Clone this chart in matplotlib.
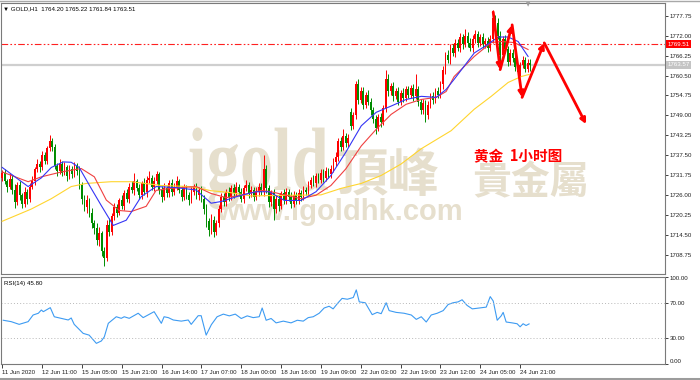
import matplotlib
matplotlib.use('Agg')
import matplotlib.pyplot as plt
from matplotlib.textpath import TextPath
from matplotlib.font_manager import FontProperties
from matplotlib.patches import PathPatch
from matplotlib.transforms import Affine2D

# ---------------- data ----------------
first_open = 1731.0
gap_opens = {140: 1750.0}
closes = [
    1732.5, 1730.0, 1728.5, 1730.8, 1727.5, 1724.0, 1729.0, 1726.0, 1723.5, 1727.0,
    1725.0, 1728.5, 1730.0, 1733.5, 1735.0, 1734.0, 1737.5, 1736.0, 1739.5, 1741.5,
    1740.0, 1734.5, 1733.0, 1735.0, 1732.5, 1734.0, 1731.5, 1733.5, 1732.0, 1734.5,
    1733.0, 1729.0, 1725.0, 1722.5, 1724.5, 1721.0, 1718.0, 1716.5, 1713.0, 1715.0,
    1710.0, 1708.0, 1717.5, 1715.5, 1720.0, 1722.5, 1721.0, 1724.5, 1723.0, 1726.5,
    1725.0, 1728.5, 1727.5, 1730.0, 1728.0, 1726.0, 1729.5, 1727.0, 1730.5, 1731.0,
    1728.5, 1730.0, 1732.0, 1727.5, 1725.5, 1728.0, 1726.5, 1729.5, 1727.0, 1728.5,
    1730.0, 1727.5, 1725.5, 1728.0, 1726.0, 1724.5, 1727.0, 1728.5, 1726.0, 1727.5,
    1725.0, 1722.0, 1718.5, 1716.0, 1719.0, 1715.5, 1718.0, 1722.0, 1725.5, 1724.0,
    1727.0, 1725.5, 1728.0, 1726.5, 1728.5, 1727.0, 1725.0, 1728.0, 1729.0, 1726.5,
    1727.5, 1725.5, 1727.0, 1728.5, 1727.0, 1733.5, 1728.0, 1724.0, 1726.5, 1722.0,
    1725.0, 1723.0, 1726.5, 1724.5, 1727.0, 1725.5, 1723.5, 1726.0, 1724.5, 1726.5,
    1725.5, 1727.5, 1727.0, 1729.0, 1730.5, 1729.5, 1731.5, 1730.5, 1732.5, 1731.0,
    1733.0, 1732.0, 1733.5, 1735.5, 1737.0, 1741.5, 1740.0, 1743.0, 1741.0, 1742.5,
    1746.0, 1749.0, 1758.0, 1753.5, 1756.0, 1752.0, 1755.0, 1753.0, 1750.5, 1748.0,
    1745.5, 1748.5, 1747.0, 1751.0, 1759.5, 1756.0, 1757.5, 1754.5, 1756.0, 1753.0,
    1755.5, 1754.0, 1756.5, 1755.0, 1757.0, 1754.5, 1756.5, 1753.0, 1750.5, 1752.5,
    1749.0, 1752.0, 1754.5, 1753.5, 1756.0, 1755.0, 1758.0, 1762.0, 1766.5, 1765.0,
    1768.5, 1767.0, 1770.0, 1768.5, 1771.5, 1769.5, 1772.0, 1770.0, 1768.5, 1771.0,
    1772.5, 1770.0, 1771.5, 1769.5, 1770.5, 1768.5, 1771.0, 1777.0, 1775.5, 1772.0,
    1766.5, 1771.0, 1768.0, 1764.5, 1767.0, 1765.5, 1763.0, 1761.5, 1763.5, 1765.0,
    1762.5, 1764.2, 1763.51,
]
upper_wicks = [
    0.8, 1.2, 0.6, 1.5, 0.9, 1.8, 0.7, 1.1, 0.5, 1.3,
    0.9, 1.0, 1.6, 0.7, 1.4, 0.8, 1.2, 1.0, 0.6, 2.0,
    1.1, 0.9, 0.7, 1.3, 0.8, 1.5, 0.6, 1.1, 0.9, 1.2,
    0.8, 1.4, 0.9, 1.0, 1.6, 0.7, 1.2, 0.9, 1.5, 1.8,
    0.8, 1.0, 1.3, 1.9, 0.9, 1.4, 1.0, 0.8, 1.6, 1.1,
    1.3, 0.9, 1.5, 2.5, 0.8, 1.2, 0.7, 1.4, 1.0, 2.0,
    0.9, 1.3, 1.1, 0.8, 1.2, 1.5, 0.7, 1.0, 1.3, 0.9,
    1.4, 0.8, 1.1, 1.2, 0.9, 1.0, 1.5, 0.8, 1.1, 0.9,
    1.2, 1.0, 1.4, 0.8, 1.6, 1.1, 0.9, 1.3, 1.0, 1.2,
    0.8, 1.5, 0.9, 1.1, 1.3, 0.7, 1.2, 1.0, 1.4, 0.9,
    1.1, 0.8, 1.3, 1.0, 0.9, 4.0, 1.2, 0.9, 1.1, 1.4,
    1.0, 1.3, 0.8, 1.2, 1.0, 0.9, 1.4, 1.1, 0.8, 1.2,
    0.9, 1.3, 1.0, 1.1, 0.8, 1.4, 1.0, 0.9, 1.2, 1.1,
    1.0, 0.8, 1.3, 1.1, 1.4, 0.9, 1.2, 2.0, 1.0, 1.1,
    1.2, 0.9, 1.0, 1.5, 1.1, 1.3, 0.8, 1.2, 1.0, 0.9,
    1.1, 0.8, 1.2, 1.0, 2.5, 1.3, 0.9, 1.1, 1.0, 1.2,
    0.8, 1.3, 1.0, 1.1, 0.9, 1.2, 4.3, 1.0, 0.8, 1.2,
    1.0, 1.1, 0.9, 1.3, 1.0, 1.2, 0.8, 1.1, 0.9, 1.4,
    1.0, 1.2, 0.9, 1.1, 1.3, 1.0, 2.0, 0.9, 1.2, 1.1,
    1.0, 0.8, 1.1, 1.2, 0.9, 1.0, 1.3, 2.4, 1.0, 1.5,
    1.2, 1.0, 1.3, 0.9, 1.1, 1.0, 1.2, 0.8, 1.0, 1.1,
    0.9, 1.0, 1.02,
]
lower_wicks = [
    1.0, 0.8, 1.5, 0.7, 1.2, 1.6, 0.9, 1.3, 1.1, 0.8,
    1.4, 0.9, 0.7, 1.1, 0.8, 1.3, 0.6, 1.0, 0.9, 0.7,
    1.2, 1.0, 1.4, 0.8, 1.1, 0.7, 1.3, 0.9, 1.0, 0.8,
    1.1, 1.3, 1.5, 1.0, 1.6, 1.2, 1.4, 1.8, 1.3, 1.6,
    1.5, 2.4, 1.0, 1.2, 0.9, 1.1, 1.3, 0.8, 1.0, 1.2,
    0.9, 1.1, 1.0, 1.3, 0.8, 1.2, 1.0, 0.9, 1.4, 1.1,
    1.0, 1.3, 0.8, 1.2, 1.5, 0.9, 1.1, 1.0, 1.2, 0.8,
    1.1, 1.0, 1.3, 0.9, 1.2, 1.4, 0.8, 1.0, 1.1, 1.3,
    1.0, 1.4, 1.6, 1.8, 1.2, 1.5, 1.0, 1.1, 0.9, 1.2,
    1.0, 1.1, 0.9, 1.2, 0.8, 1.3, 1.0, 1.1, 0.9, 1.2,
    1.0, 1.3, 0.9, 1.1, 1.0, 1.2, 1.4, 1.5, 1.1, 3.2,
    1.2, 1.5, 1.0, 1.1, 0.9, 1.3, 1.2, 1.0, 1.1, 0.9,
    1.1, 1.0, 0.9, 1.2, 1.0, 0.8, 1.1, 1.0, 0.9, 1.2,
    0.9, 1.1, 1.0, 0.8, 1.2, 1.0, 1.3, 0.9, 1.1, 1.0,
    1.2, 1.0, 1.1, 1.3, 0.9, 1.2, 1.0, 1.1, 1.4, 1.2,
    1.8, 1.0, 1.2, 0.9, 1.1, 1.3, 1.0, 1.2, 0.9, 1.1,
    1.0, 1.2, 0.8, 1.1, 1.0, 1.3, 0.9, 1.2, 1.1, 1.0,
    2.0, 1.1, 1.0, 1.2, 0.9, 1.1, 1.0, 1.3, 1.2, 1.0,
    1.1, 0.9, 1.2, 1.0, 1.1, 1.3, 0.9, 1.2, 1.0, 1.1,
    1.0, 1.2, 0.9, 1.1, 1.0, 1.2, 0.9, 1.0, 1.3, 1.1,
    2.5, 1.2, 1.0, 1.3, 1.1, 1.0, 1.2, 1.0, 1.1, 0.9,
    1.1, 1.0, 1.67,
]

# moving averages (bar index, price)
ma_blue_idx = [0, 10.4, 15.7, 19.7, 24.5, 27.7, 30.9, 35.7, 39.8, 44.6, 49.8, 55.8, 61.8,
               69.9, 77.9, 83.9, 88.0, 96.0, 102.0, 107.2, 113.3, 120.0, 126.0, 132.0,
               138.0, 144.2, 150.2, 156.2, 162.2, 168.3, 174.3, 178.3, 181.5, 189.6,
               193.6, 199.2, 203.2, 207.2, 211.2]
ma_blue_val = [1734.0, 1728.5, 1731.0, 1734.0, 1735.6, 1735.5, 1734.0, 1728.0, 1723.0,
               1717.3, 1718.8, 1725.6, 1728.5, 1728.2, 1727.5, 1723.7, 1724.2, 1726.0,
               1727.0, 1727.0, 1724.5, 1724.5, 1727.0, 1731.7, 1738.4, 1746.0, 1749.9,
               1751.7, 1753.6, 1754.5, 1754.2, 1756.5, 1759.4, 1767.0, 1768.8, 1771.6,
               1771.6, 1770.3, 1766.0]
ma_red_idx = [0, 10.4, 15.7, 23.7, 31.7, 37.0, 41.8, 47.0, 51.8, 57.8, 61.8, 67.9, 77.9,
              83.9, 90.0, 96.0, 104.0, 108.0, 114.0, 120.0, 126.0, 132.0, 138.0, 144.2,
              150.2, 156.2, 162.2, 168.3, 174.3, 178.3, 181.5, 189.6, 196.4, 200.4,
              205.6, 211.2]
ma_red_val = [1732.7, 1729.9, 1731.3, 1732.7, 1733.7, 1731.3, 1724.6, 1721.6, 1721.3,
              1722.8, 1727.4, 1728.0, 1728.5, 1726.5, 1725.3, 1726.0, 1727.4, 1727.0,
              1726.0, 1725.0, 1726.0, 1728.8, 1733.6, 1740.2, 1745.0, 1749.3, 1752.2,
              1753.6, 1754.2, 1755.9, 1760.2, 1766.0, 1770.0, 1770.3, 1770.0, 1768.0]
ma_yellow_idx = [0, 11.6, 19.7, 27.7, 33.7, 43.8, 51.8, 63.9, 75.9, 83.9, 91.2, 100.0,
                 108.0, 116.0, 128.0, 136.2, 144.2, 152.2, 160.2, 168.3, 180.3, 189.6,
                 196.4, 203.2, 208.4, 211.6]
ma_yellow_val = [1718.5, 1722.0, 1725.0, 1728.5, 1729.4, 1729.9, 1729.9, 1728.8, 1728.5,
                 1727.3, 1726.8, 1725.8, 1725.9, 1726.0, 1726.1, 1728.0, 1729.4, 1731.7,
                 1735.0, 1739.4, 1744.6, 1750.8, 1754.5, 1758.5, 1760.2, 1760.8]

# RSI(14)
rsi_idx = [0.4, 3.6, 6.8, 10.4, 12.4, 14.5, 15.7, 16.5, 19.3, 20.9, 26.5, 27.7, 28.9,
           32.5, 34.9, 37.8, 39.8, 41.0, 42.6, 45.8, 47.8, 49.0, 51.0, 54.6, 56.6, 61.0,
           63.9, 65.0, 66.7, 68.7, 71.9, 74.7, 75.9, 78.7, 79.9, 81.9, 84.0, 86.3, 88.8,
           91.2, 93.6, 96.0, 98.4, 100.8, 103.2, 104.4, 106.0, 108.0, 110.0, 112.9,
           116.0, 118.5, 120.9, 122.9, 124.9, 127.3, 129.3, 131.3, 132.9, 134.9, 136.5,
           138.6, 141.0, 142.2, 143.4, 145.8, 148.6, 150.6, 152.2, 154.2, 155.4, 158.2,
           161.4, 164.3, 166.3, 168.3, 170.3, 172.3, 174.7, 177.1, 179.1, 181.1, 183.1,
           184.7, 186.7, 188.8, 191.6, 194.4, 196.0, 197.2, 198.8, 200.4, 201.2, 202.4,
           204.8, 206.8, 208.0, 209.2, 210.4, 211.6]
rsi_val = [50.0, 48.4, 45.3, 48.4, 56.0, 58.0, 61.7, 59.8, 64.4, 54.0, 50.3, 52.6, 45.3,
           35.0, 33.0, 23.6, 26.3, 31.0, 46.5, 54.0, 52.2, 54.0, 52.2, 58.0, 53.0, 59.8,
           46.5, 54.0, 53.0, 50.3, 49.0, 50.3, 45.3, 55.2, 55.2, 33.0, 45.0, 54.0, 57.0,
           55.0, 57.0, 52.0, 55.0, 53.0, 54.0, 64.0, 50.0, 52.0, 47.0, 49.0,
           47.0, 50.0, 49.0, 53.0, 54.0, 58.0, 64.0, 66.0, 63.0, 70.0, 75.0,
           74.0, 76.0, 84.7, 71.0, 70.0, 56.4, 59.0, 57.5, 70.0, 61.0, 59.0,
           58.0, 56.0, 51.0, 54.0, 48.0, 56.0, 58.0, 61.0, 68.0, 70.0, 71.0,
           73.4, 67.0, 63.0, 64.0, 65.0, 77.0, 72.0, 50.0, 55.0, 59.0, 48.0,
           47.0, 46.0, 42.5, 46.0, 44.0, 45.8]

red_level = 1769.51
gray_level = 1763.57
header = "GOLD,H1  1764.20 1765.22 1761.84 1763.51"
rsi_label = "RSI(14) 45.80"
price_ticks = [1777.75, 1772.00, 1766.25, 1760.50, 1754.75, 1749.00, 1743.25,
               1737.50, 1731.75, 1726.00, 1720.25, 1714.50, 1708.75]
rsi_ticks = [100, 70, 30, 0]
x_tick_idx = [0, 16, 32, 48, 64, 80, 96, 112, 128, 144, 160, 176, 192, 208]
x_tick_labels = ["11 Jun 2020", "12 Jun 11:00", "15 Jun 05:00", "15 Jun 21:00",
                 "16 Jun 14:00", "17 Jun 07:00", "18 Jun 00:00", "18 Jun 16:00",
                 "19 Jun 09:00", "22 Jun 03:00", "22 Jun 19:00", "23 Jun 12:00",
                 "24 Jun 05:00", "24 Jun 21:00"]
arrow_x = [197.2, 200.0, 204.8, 208.8, 217.7, 234.5]
arrow_y = [1778.8, 1762.2, 1775.1, 1754.2, 1769.9, 1746.5]
title_cn = "黄金  1小时图"

# ---------------- layout ----------------
W, H = 700, 380
def fx(px): return px / W
def fy(py): return 1 - py / H

TICKFONT = ['Liberation Sans', 'DejaVu Sans']
fig = plt.figure(figsize=(W / 100, H / 100), dpi=100)
fig.patch.set_facecolor('white')

ax = fig.add_axes([fx(1), fy(274), 664 / W, 271 / H])
rx = fig.add_axes([fx(1), fy(364), 664 / W, 87.5 / H])

# ---------------- candles ----------------
opens, highs, lows = [], [], []
prev = first_open
for i, c in enumerate(closes):
    o = gap_opens.get(i, prev)
    opens.append(o)
    highs.append(max(o, c) + upper_wicks[i])
    lows.append(min(o, c) - lower_wicks[i])
    prev = c

UP, DN = '#FF0000', '#008C00'
xs = list(range(len(closes)))
cols = [UP if c >= o else DN for o, c in zip(opens, closes)]
ax.vlines(xs, lows, highs, colors=cols, lw=0.7, zorder=3)
bottoms = [min(o, c) for o, c in zip(opens, closes)]
heights = [max(abs(c - o), 0.25) for o, c in zip(opens, closes)]
ax.bar(xs, heights, bottom=bottoms, width=0.7, color=cols, linewidth=0, zorder=3)

# moving averages
ax.plot(ma_yellow_idx, ma_yellow_val, color='#FFD52E', lw=0.8, zorder=4)
ax.plot(ma_red_idx, ma_red_val, color='#F04040', lw=0.8, zorder=4)
ax.plot(ma_blue_idx, ma_blue_val, color='#3535F5', lw=0.8, zorder=4)

# levels
ax.axhline(red_level, color='#FF2020', lw=0.8, ls=(0, (6, 2, 1.5, 2, 1.5, 2)), zorder=2)
ax.axhline(gray_level, color='#CFCFCF', lw=1.6, zorder=2)

ax.set_xlim(-0.5, 266.2)
ax.set_ylim(1703.3, 1781.4)
ax.yaxis.tick_right()
ax.set_yticks(price_ticks)
ax.set_yticklabels(['%.2f' % v for v in price_ticks], family=TICKFONT, fontsize=4.4)
ax.tick_params(axis='y', length=2.2, width=0.6, pad=1, colors='#202020')
ax.set_xticks([])
for s in ax.spines.values():
    s.set_color('#7A7A7A'); s.set_linewidth(0.8)

# price boxes on the scale
tr = ax.get_yaxis_transform()
ax.text(1.0035, red_level, '%.2f' % red_level, transform=tr, fontsize=4.4, family=TICKFONT,
        color='white', va='center', ha='left', clip_on=False,
        bbox=dict(boxstyle='square,pad=0.25', fc='#FF0000', ec='none'))
ax.text(1.0035, gray_level, '%.2f' % gray_level, transform=tr, fontsize=4.4, family=TICKFONT,
        color='white', va='center', ha='left', clip_on=False,
        bbox=dict(boxstyle='square,pad=0.25', fc='#C4C4C4', ec='none'))

# watermark
WM = '#E6DFCD'
tp = TextPath((0, 0), 'igold', size=90,
              prop=FontProperties(family='Liberation Serif', weight='bold'))
wm_patch = PathPatch(tp, transform=Affine2D().scale(0.74, 1.0).translate(188, H - 190),
                     fc=WM, ec='none', zorder=1, clip_on=False)
ax.add_patch(wm_patch)
ax.text(fx(336), fy(176), '頂峰', transform=fig.transFigure, fontsize=37,
        family='Noto Sans CJK TC', fontweight='bold', color=WM, ha='left', va='center', zorder=1)
ax.text(fx(472), fy(183), '貴金屬', transform=fig.transFigure, fontsize=28,
        family='Noto Sans CJK TC', fontweight='bold', color=WM, ha='left', va='center', zorder=1)
ax.text(fx(216), fy(212), 'www.igoldhk.com', transform=fig.transFigure, fontsize=21,
        family='Liberation Sans', fontweight='bold', color=WM, ha='left', va='center', zorder=1)

# red annotation text
ax.text(fx(518), fy(156), title_cn, transform=fig.transFigure, fontsize=10.5,
        family=['Noto Sans CJK SC', 'DejaVu Sans'], fontweight='bold', color='#FF0000',
        ha='center', va='center', zorder=6)

# red zigzag arrows
for k in range(len(arrow_x) - 1):
    ax.annotate('', xy=(arrow_x[k + 1], arrow_y[k + 1]), xytext=(arrow_x[k], arrow_y[k]),
                arrowprops=dict(arrowstyle='-|>', color='#FF0000', lw=2.0,
                                mutation_scale=8, shrinkA=0, shrinkB=0),
                zorder=7)

# header
fig.text(fx(3), fy(9), '▼ ' + header, fontsize=4.4, family=TICKFONT, va='center',
         ha='left', color='black')
# shift marker
fig.text(fx(528), fy(5), '▼', fontsize=4, color='#9A9A9A', ha='center', va='center',
         family='DejaVu Sans')

# ---------------- RSI ----------------
rx.plot(rsi_idx, rsi_val, color='#3D9BF2', lw=0.8)
for lvl in (70, 30):
    rx.axhline(lvl, color='#B8B8B8', lw=0.7, ls=(0, (1, 2.2)))
rx.set_xlim(-0.5, 266.2)
rx.set_ylim(0, 100)
rx.yaxis.tick_right()
rx.set_yticks(rsi_ticks)
rx.set_yticklabels(['%.2f' % v for v in rsi_ticks], family=TICKFONT, fontsize=4.4)
for lab, v in zip(rx.get_yticklabels(), rsi_ticks):
    if v == 100:
        lab.set_va('top')
    elif v == 0:
        lab.set_va('bottom')
rx.tick_params(axis='y', length=2.2, width=0.6, pad=1, colors='#202020')
rx.set_xticks(x_tick_idx)
rx.set_xticklabels(x_tick_labels, family=TICKFONT, fontsize=4.4, ha='left')
rx.tick_params(axis='x', length=3, width=0.6, pad=1.5, colors='#202020')
for s in rx.spines.values():
    s.set_color('#7A7A7A'); s.set_linewidth(0.8)
rx.text(0.004, 0.95, rsi_label, transform=rx.transAxes, fontsize=4.4, family=TICKFONT,
        va='top', ha='left')

# window frame bits
fig.add_artist(plt.Line2D([0, 1], [fy(378.5), fy(378.5)], color='#9C9C9C', lw=2.2))
fig.add_artist(plt.Line2D([0, 1], [fy(0.5), fy(0.5)], color='#A8A8A8', lw=1.0))

fig.savefig('out.png', dpi=100)
